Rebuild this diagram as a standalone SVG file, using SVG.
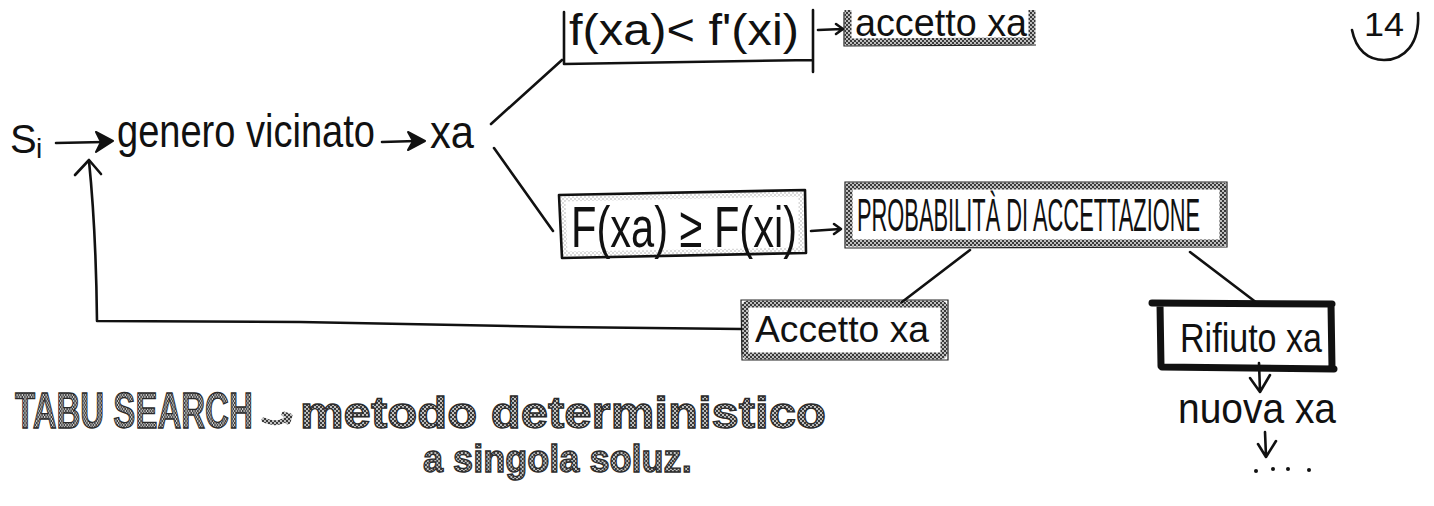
<svg xmlns="http://www.w3.org/2000/svg" width="1434" height="506" viewBox="0 0 1434 506">
  <defs>
    <!-- halftone used for highlighted boxes and the title words -->
    <pattern id="dots" width="4" height="4" patternUnits="userSpaceOnUse">
      <rect width="4" height="4" fill="#3a3a3a"/>
      <circle cx="1" cy="1" r="0.9" fill="#fff"/>
      <circle cx="3" cy="3" r="0.9" fill="#fff"/>
    </pattern>
    <!-- pale halftone just inside the pen-drawn box -->
    <pattern id="fine" width="4" height="4" patternUnits="userSpaceOnUse">
      <rect width="4" height="4" fill="#fff"/>
      <circle cx="1" cy="1" r="0.7" fill="#9a9a9a"/>
      <circle cx="3" cy="3" r="0.7" fill="#9a9a9a"/>
    </pattern>
    <style>
      .ink { fill:none; stroke:#111; stroke-width:2.6; stroke-linecap:round; stroke-linejoin:round; }
      .head { fill:#111; stroke:#111; stroke-width:2; stroke-linejoin:round; }
      .hand { font-family:"Liberation Sans", Arial, sans-serif; fill:#111; }
      .band { fill:none; stroke:url(#dots); stroke-width:7; stroke-linejoin:round; }
      .edge { fill:none; stroke:#222; stroke-width:1.2; }
      .pale { fill:none; stroke:url(#fine); stroke-width:5; }
      .thick { fill:none; stroke:#111; stroke-width:7; stroke-linecap:round; stroke-linejoin:round; }
      .title { font-family:"Liberation Sans", Arial, sans-serif; font-weight:bold; fill:url(#dots); stroke:#2a2a2a; stroke-width:1.3; }
    </style>
  </defs>

  <rect width="1434" height="506" fill="#fff"/>

  <!-- start state -->
  <g id="node-si">
    <text class="hand" x="10" y="153" font-size="40">S</text>
    <text class="hand" x="36" y="158" font-size="28">i</text>
  </g>

  <g id="node-genero">
    <text class="hand" x="117" y="147" font-size="46" textLength="258" lengthAdjust="spacingAndGlyphs">genero vicinato</text>
  </g>

  <g id="node-xa">
    <text class="hand" x="430" y="148" font-size="46" textLength="44" lengthAdjust="spacingAndGlyphs">xa</text>
  </g>

  <!-- condition: better neighbour (box open at the top) -->
  <g id="node-cond-better">
    <path class="ink" d="M564,12 L564,64 L813,60 M813,10 L813,72"/>
    <text class="hand" x="569" y="45" font-size="44" textLength="230" lengthAdjust="spacingAndGlyphs">f(xa)&lt; f'(xi)</text>
  </g>

  <g id="node-accept-top">
    <path class="band" d="M848,10 L848,42 L1032,41 L1032,10"/>
    <path class="edge" d="M844,12 L844,46 L1036,45"/>
    <text class="hand" x="855" y="36" font-size="38" textLength="172" lengthAdjust="spacingAndGlyphs">accetto xa</text>
  </g>

  <!-- condition: worse neighbour -->
  <g id="node-cond-worse">
    <path class="pale" d="M563,199 L801,194 L801,250 L565,254 Z"/>
    <path class="ink" d="M559,195 L805,190 L806,253 L562,258 Z" stroke-width="3"/>
    <text class="hand" x="571" y="247" font-size="58" textLength="226" lengthAdjust="spacingAndGlyphs">F(xa) ≥ F(xi)</text>
  </g>

  <g id="node-probabilita">
    <rect class="band" x="849" y="186" width="374" height="57"/>
    <path class="edge" d="M845,182 L1227,182 L1227,247 L845,248 Z"/>
    <text class="hand" font-size="46" transform="translate(857,231) scale(0.475,1)">PROBABILITÀ DI ACCETTAZIONE</text>
  </g>

  <g id="node-accetto">
    <rect class="band" x="745" y="304" width="199" height="52" rx="3"/>
    <path class="edge" d="M741,300 L948,300 L948,360 L742,360 Z"/>
    <text class="hand" x="755" y="342" font-size="37" textLength="174" lengthAdjust="spacingAndGlyphs">Accetto xa</text>
  </g>

  <g id="node-rifiuto">
    <path class="thick" d="M1152,303 L1332,304 M1160,304 L1161,366 M1162,367 L1334,369 M1331,304 L1332,368"/>
    <text class="hand" x="1180" y="352" font-size="40" textLength="142" lengthAdjust="spacingAndGlyphs">Rifiuto xa</text>
  </g>

  <g id="node-nuova">
    <text class="hand" x="1178" y="423" font-size="42" textLength="158" lengthAdjust="spacingAndGlyphs">nuova xa</text>
  </g>

  <g id="node-dots">
    <circle cx="1256" cy="471" r="2" fill="#111"/>
    <circle cx="1273" cy="469" r="2" fill="#111"/>
    <circle cx="1288" cy="469" r="2" fill="#111"/>
    <circle cx="1309" cy="470" r="2" fill="#111"/>
  </g>

  <!-- page number -->
  <g id="page-number">
    <text class="hand" x="1364" y="36" font-size="34" textLength="40" lengthAdjust="spacingAndGlyphs">14</text>
    <path class="ink" d="M1352,30 C1356,50 1368,60 1384,60 C1404,60 1420,44 1418,13"/>
  </g>

  <!-- summary line -->
  <g id="note-tabu">
    <text class="title" font-size="50" transform="translate(15,428) scale(0.66,1)">TABU SEARCH</text>
    <path d="M264,420 C272,424 282,424 290,416 M284,414 L290,416 L288,422" fill="none" stroke="url(#dots)" stroke-width="5" stroke-linecap="round" stroke-linejoin="round"/>
    <text class="title" x="300" y="428" font-size="45" textLength="526" lengthAdjust="spacingAndGlyphs">metodo deterministico</text>
    <text class="title" font-size="38" transform="translate(423,472) scale(0.95,1)">a singola soluz.</text>
  </g>

  <!-- connectors -->
  <g id="connectors">
    <!-- Si -> genero vicinato -->
    <path class="ink" d="M56,143 L104,142" stroke-width="3.5"/>
    <path class="head" d="M96,132 L113,141 L96,152 L101,142 Z"/>
    <!-- genero vicinato -> xa -->
    <path class="ink" d="M382,142 L416,141" stroke-width="3.5"/>
    <path class="head" d="M408,132 L425,141 L408,150 L413,141 Z"/>
    <!-- xa branches -->
    <path class="ink" d="M491,124 L562,60"/>
    <path class="ink" d="M494,148 L553,231"/>
    <!-- condition -> outcome -->
    <path class="ink" d="M818,30 L842,29 M836,24 L843,29 L836,34" stroke-width="2"/>
    <path class="ink" d="M811,231 L840,229 M834,224 L841,229 L834,234" stroke-width="2"/>
    <!-- probability -> accept / reject -->
    <path class="ink" d="M970,250 L902,302"/>
    <path class="ink" d="M1190,252 L1257,303"/>
    <!-- accept loops back to Si -->
    <path class="ink" d="M741,329 L560,327 L300,322 L97,321 Q96,230 89,161"/>
    <path class="ink" d="M75,175 L89,160 L101,174" stroke-width="3"/>
    <!-- reject -> new candidate -> ... -->
    <path class="ink" d="M1259,363 L1260,391 M1250,378 L1260,392 L1270,375" stroke-width="3"/>
    <path class="ink" d="M1265,432 L1266,456 M1258,444 L1266,457 L1276,441" stroke-width="3"/>
  </g>
</svg>
